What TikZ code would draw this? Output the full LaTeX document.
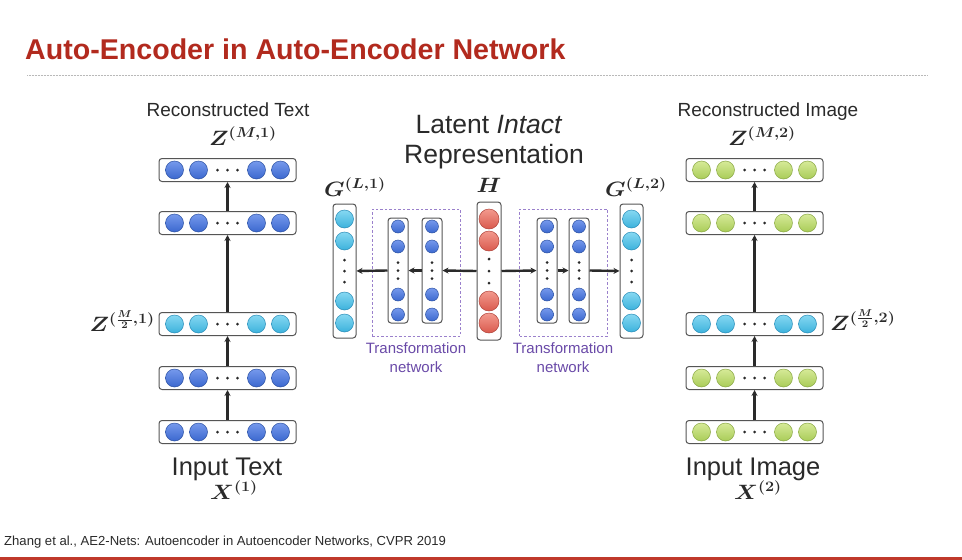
\documentclass[tikz,border=0pt]{standalone}
\usepackage[no-math]{fontspec}
\setmainfont{Liberation Sans}
\usepackage{bm}
\usepackage{graphicx}
\usetikzlibrary{arrows.meta}

\definecolor{titlered}{HTML}{B22A1E}
\definecolor{barred}{HTML}{C0392B}
\definecolor{ink}{HTML}{2A2A2A}
\definecolor{boxgray}{HTML}{555555}
\definecolor{tpurple}{HTML}{6A4AA8}
\definecolor{tdash}{HTML}{9A80CC}

% filled neurons: light top, darker bottom, thin outline
\tikzset{
  ncyan/.style={top color={rgb,255:red,134;green,216;blue,242}, bottom color={rgb,255:red,60;green,178;blue,220}, draw={rgb,255:red,43;green,141;blue,184}, line width=0.5pt},
  ngreen/.style={top color={rgb,255:red,214;green,234;blue,152}, bottom color={rgb,255:red,169;green,204;blue,88}, draw={rgb,255:red,138;green,168;blue,69}, line width=0.5pt},
  nred/.style={top color={rgb,255:red,243;green,154;blue,142}, bottom color={rgb,255:red,217;green,89;blue,77}, draw={rgb,255:red,178;green,69;blue,60}, line width=0.5pt},
  nblue/.style={top color={rgb,255:red,118;green,153;blue,236}, bottom color={rgb,255:red,59;green,104;blue,207}, draw={rgb,255:red,45;green,82;blue,163}, line width=0.5pt},
  hbox/.style={draw=boxgray, fill=white, rounded corners=3pt, line width=1pt, minimum width=137pt, minimum height=23pt, inner sep=0pt},
  gbox/.style={draw=boxgray, fill=white, rounded corners=3pt, line width=1pt, minimum width=23pt, minimum height=134pt, inner sep=0pt},
  hhbox/.style={draw=boxgray, fill=white, rounded corners=3pt, line width=1pt, minimum width=24pt, minimum height=138pt, inner sep=0pt},
  tcol/.style={draw=boxgray, fill=white, rounded corners=3pt, line width=1pt, minimum width=20pt, minimum height=105pt, inner sep=0pt},
  tframe/.style={draw=tdash, dash pattern=on 2.5pt off 2pt, line width=0.9pt, minimum width=88pt, minimum height=127pt, inner sep=0pt},
  arr/.style={draw=ink, line width=2.4pt, -{Stealth[length=6pt,width=6pt]}},
  lbl/.style={text=ink, inner sep=0pt, anchor=base},
  mlbl/.style={text=ink, inner sep=0pt, anchor=base, font=\fontsize{19.5}{22}\selectfont\boldmath},
  tlbl/.style={text=tpurple, inner sep=0pt, anchor=base, font=\fontsize{15}{17}\selectfont},
}

% wide bold math label
\newcommand\AEmath[1]{\scalebox{1.12}[1]{$#1$}}

% horizontal layer: name, x, y, neuron style
\newcommand\AEhrow[4]{%
  \node[hbox] (#1) at (#2,#3) {};
  \foreach \dx in {-53,-29,29,53} \path[#4] (#2+\dx,#3) circle (9pt);
  \foreach \dx in {-10,0,10} \fill[ink] (#2+\dx,#3) circle (1.5pt);
}
% vertical layer: name, x, y, box style, neuron style, radius, outer offset, inner offset, dot gap
\newcommand\AEvcol[9]{%
  \node[#4] (#1) at (#2,#3) {};
  \foreach \dy in {-#7,-#8,#8,#7} \path[#5] (#2,#3+\dy) circle (#6pt);
  \foreach \dy in {-#9,0,#9} \fill[ink] (#2,#3+\dy) circle (1.5pt);
}

\begin{document}
\begin{tikzpicture}[x=1pt,y=-1pt]
\useasboundingbox (0,0) rectangle (962,560);
\fill[white] (0,0) rectangle (962,560);

% heading, rule and footer
\node[anchor=base west, inner sep=0pt, text=titlered, font=\fontsize{28.6}{31}\selectfont\bfseries] (title) at (25,59) {Auto-Encoder in Auto-Encoder Network};
\draw[gray!55, line width=0.8pt, dash pattern=on 0.8pt off 0.7pt] (27,75.5) -- (928,75.5);
\node[anchor=base west, inner sep=0pt, text=ink, font=\fontsize{13.1}{15}\selectfont] (cite) at (4,545) {Zhang et al., AE2-Nets: Autoencoder in Autoencoder Networks, CVPR 2019};
\fill[barred] (0,556.5) rectangle (962,560);

% text branch
\AEhrow{L1}{227.5}{170}{nblue}
\AEhrow{L2}{227.5}{223}{nblue}
\AEhrow{L3}{227.5}{324}{ncyan}
\AEhrow{L4}{227.5}{378}{nblue}
\AEhrow{L5}{227.5}{432}{nblue}
\draw[arr] (L5.north) -- (L4.south);
\draw[arr] (L4.north) -- (L3.south);
\draw[arr] (L3.north) -- (L2.south);
\draw[arr] (L2.north) -- (L1.south);

% image branch
\AEhrow{R1}{754.5}{170}{ngreen}
\AEhrow{R2}{754.5}{223}{ngreen}
\AEhrow{R3}{754.5}{324}{ncyan}
\AEhrow{R4}{754.5}{378}{ngreen}
\AEhrow{R5}{754.5}{432}{ngreen}
\draw[arr] (R5.north) -- (R4.south);
\draw[arr] (R4.north) -- (R3.south);
\draw[arr] (R3.north) -- (R2.south);
\draw[arr] (R2.north) -- (R1.south);

% branch labels
\node[lbl, font=\fontsize{19}{21}\selectfont] (rtext) at (228,116) {Reconstructed Text};
\node[mlbl] (zm1) at (243,145) {\AEmath{Z^{(M,1)}}};
\node[lbl, font=\fontsize{25.5}{28}\selectfont] (itext) at (227,475) {Input Text};
\node[mlbl] (x1) at (234,499) {\AEmath{X^{(1)}}};
\node[mlbl, anchor=base east] (zh1) at (155,331) {\AEmath{Z^{(\frac{M}{2},1)}}};

\node[lbl, font=\fontsize{19}{21}\selectfont] (rimage) at (768,116) {Reconstructed Image};
\node[mlbl] (zm2) at (762,145) {\AEmath{Z^{(M,2)}}};
\node[lbl, font=\fontsize{25.5}{28}\selectfont] (iimage) at (753,475) {Input Image};
\node[mlbl] (x2) at (758,499) {\AEmath{X^{(2)}}};
\node[mlbl, anchor=base west] (zh2) at (830,330) {\AEmath{Z^{(\frac{M}{2},2)}}};

% latent representation and transformation networks
\node[tframe] (tfl) at (416,272.5) {};
\node[tframe] (tfr) at (563.5,272.5) {};
\AEvcol{G1}{344.5}{271}{gbox}{ncyan}{9}{52}{30}{11}
\AEvcol{TA}{398}{270.5}{tcol}{nblue}{6.5}{44}{24}{8}
\AEvcol{TB}{432}{270.5}{tcol}{nblue}{6.5}{44}{24}{8}
\AEvcol{H}{489}{271}{hhbox}{nred}{10}{52}{30}{12}
\AEvcol{TC}{547}{270.5}{tcol}{nblue}{6.5}{44}{24}{8}
\AEvcol{TD}{579}{270.5}{tcol}{nblue}{6.5}{44}{24}{8}
\AEvcol{G2}{631.5}{271}{gbox}{ncyan}{9}{52}{30}{11}
\draw[arr] (H.west) -- (TB.east);
\draw[arr] (TB.west) -- (TA.east);
\draw[arr] (TA.west) -- (G1.east);
\draw[arr] (H.east) -- (TC.west);
\draw[arr] (TC.east) -- (TD.west);
\draw[arr] (TD.east) -- (G2.west);

\node[lbl, font=\fontsize{26.5}{29}\selectfont] (lat1) at (489,133) {Latent \textit{Intact}};
\node[lbl, font=\fontsize{26.5}{29}\selectfont] (lat2) at (494,163) {Representation};
\node[mlbl] (hlab) at (489,192) {\AEmath{H}};
\node[mlbl] (g1lab) at (355,196) {\AEmath{G^{(L,1)}}};
\node[mlbl] (g2lab) at (636,196) {\AEmath{G^{(L,2)}}};
\node[tlbl] (tl1) at (416,353) {Transformation};
\node[tlbl] (tl2) at (416,372) {network};
\node[tlbl] (tr1) at (563,353) {Transformation};
\node[tlbl] (tr2) at (563,372) {network};
\end{tikzpicture}
\end{document}
